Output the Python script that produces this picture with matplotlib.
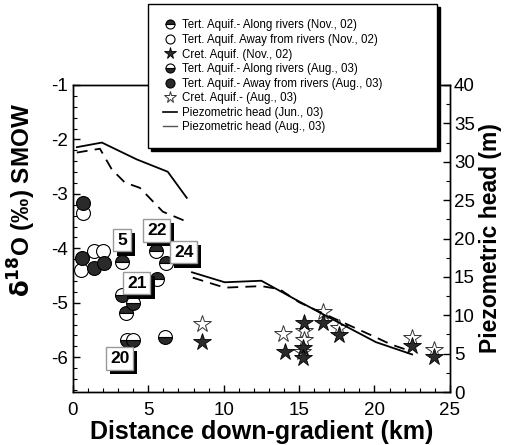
import matplotlib.pyplot as plt
import matplotlib.patheffects as pe
from matplotlib.lines import Line2D
from matplotlib.ticker import MultipleLocator
import numpy as np

plt.rcParams['font.family'] = ['Liberation Sans', 'DejaVu Sans']
plt.rcParams['axes.unicode_minus'] = False

# Tertiary aquifer, along rivers, Nov. 02 (top half filled)
tal_nov_x = [3.25, 5.5, 6.15, 5.55, 3.5]
tal_nov_y = [-4.25, -4.05, -4.27, -4.57, -5.19]

# Tertiary aquifer, away from rivers, Nov. 02 (open circles)
taw_nov_x = [0.66, 0.53, 1.39, 1.99]
taw_nov_y = [-3.35, -4.40, -4.05, -4.05]

# Cretaceous aquifer, Nov. 02 (filled stars)
cret_nov_x = [8.54, 14.04, 15.36, 15.23, 15.23, 16.56, 17.68, 22.52, 23.97]
cret_nov_y = [-5.72, -5.90, -5.37, -5.83, -6.02, -5.38, -5.60, -5.80, -6.00]

# Tertiary aquifer, along rivers, Aug. 03 (bottom half filled)
tal_aug_x = [3.25, 3.97, 3.6, 3.97, 6.1]
tal_aug_y = [-4.86, -5.0, -5.69, -5.69, -5.63]

# Tertiary aquifer, away from rivers, Aug. 03 (filled circles)
taw_aug_x = [0.66, 0.6, 1.39, 2.05]
taw_aug_y = [-3.17, -4.18, -4.36, -4.27]

# Cretaceous aquifer, Aug. 03 (open stars)
cret_aug_x = [8.54, 13.91, 15.36, 15.36, 15.17, 16.56, 17.68, 22.52, 23.97]
cret_aug_y = [-5.39, -5.58, -5.51, -5.69, -5.91, -5.17, -5.47, -5.65, -5.87]

# Piezometric head (m), two line segments separated by a gap
head_jun_x = [0.26, 1.92, 4.24, 6.29, 7.55, np.nan, 7.9, 10.07, 12.5, 15.0, 17.2, 20.1, 22.5]
head_jun_y = [31.9, 32.5, 30.3, 28.7, 25.3, np.nan, 15.6, 14.3, 14.5, 11.8, 9.5, 6.5, 4.9]
head_aug_x = [0.26, 1.79, 2.58, 3.44, 4.44, 5.96, 7.55, np.nan, 7.95, 10.07, 12.5, 13.7, 15.0, 17.2, 19.9, 21.1, 22.0]
head_aug_y = [31.2, 31.7, 29.0, 27.3, 26.6, 23.5, 22.2, np.nan, 14.9, 13.6, 13.8, 13.4, 11.7, 9.7, 7.3, 6.2, 5.6]

# Sample number tags
tag_text = ['5', '22', '24', '21', '20']
tag_x = [3.25, 5.56, 7.35, 4.24, 3.11]
tag_y = [-3.85, -3.67, -4.07, -4.64, -6.02]

fig = plt.figure(figsize=(5.1, 4.45), dpi=100)
ax = fig.add_axes([0.143, 0.119, 0.739, 0.690])
ax2 = ax.twinx()

dark = '#2a2a2a'
ms_c = 10
ms_s = 13

h1, = ax.plot(tal_nov_x, tal_nov_y, 'o', ms=ms_c, fillstyle='top', mfc=dark, mfcalt='white',
              mec='black', mew=0.8, ls='none', label='Tert. Aquif.- Along rivers (Nov., 02)', zorder=4)
h2, = ax.plot(taw_nov_x, taw_nov_y, 'o', ms=ms_c, mfc='white', mec='black', mew=0.8, ls='none',
              label='Tert. Aquif. Away from rivers (Nov., 02)', zorder=3)
h3, = ax.plot(cret_nov_x, cret_nov_y, '*', ms=ms_s, mfc=dark, mec='black', mew=0.6, ls='none',
              label='Cret. Aquif. (Nov., 02)', zorder=4)
h4, = ax.plot(tal_aug_x, tal_aug_y, 'o', ms=ms_c, fillstyle='bottom', mfc=dark, mfcalt='white',
              mec='black', mew=0.8, ls='none', label='Tert. Aquif.- Along rivers (Aug., 03)', zorder=4)
h5, = ax.plot(taw_aug_x, taw_aug_y, 'o', ms=ms_c, mfc=dark, mec='black', mew=0.8, ls='none',
              label='Tert. Aquif.- Away from rivers (Aug., 03)', zorder=4)
h6, = ax.plot(cret_aug_x, cret_aug_y, '*', ms=ms_s, mfc='white', mec='#333333', mew=0.7, ls='none',
              label='Cret. Aquif.- (Aug., 03)', zorder=3)

ax2.plot(head_jun_x, head_jun_y, color='black', lw=1.3)
ax2.plot(head_aug_x, head_aug_y, color='black', lw=1.3, ls=(0, (6, 4)))

# Tags with a hard black drop shadow
for s, x, y in zip(tag_text, tag_x, tag_y):
    t = ax.text(x, y, s, ha='center', va='center', fontsize=12.5, fontweight='bold', zorder=6,
                bbox=dict(boxstyle='square,pad=0.22', facecolor='white', edgecolor='#999999', lw=1))
    t.get_bbox_patch().set_path_effects([
        pe.SimplePatchShadow(offset=(3, -3), shadow_rgbFace='black', alpha=1.0), pe.Normal()])

ax.set_xlim(0, 25)
ax.set_ylim(-6.64, -1)
ax2.set_ylim(0, 40)

ax.xaxis.set_major_locator(MultipleLocator(5))
ax.xaxis.set_minor_locator(MultipleLocator(1))
ax.yaxis.set_major_locator(MultipleLocator(1))
ax.yaxis.set_minor_locator(MultipleLocator(0.2))
ax2.yaxis.set_major_locator(MultipleLocator(5))
ax2.yaxis.set_minor_locator(MultipleLocator(2.5))

ax.tick_params(which='both', direction='in', labelsize=13.5, top=False)
ax.tick_params(axis='x', pad=7)
ax.tick_params(which='major', length=5, width=1)
ax.tick_params(which='minor', length=3, width=0.8)
ax2.tick_params(which='both', direction='in', labelsize=13.5, pad=3)
ax2.tick_params(which='major', length=5, width=1)
ax2.tick_params(which='minor', length=3, width=0.8)
for a in (ax, ax2):
    for sp in a.spines.values():
        sp.set_linewidth(1.0)

ax.set_xlabel('Distance down-gradient (km)', fontsize=18, fontweight='bold', labelpad=1)
ax.set_ylabel(r'$\mathbf{\delta^{18}}$O (‰) SMOW', fontsize=17.5, fontweight='bold')
ax.yaxis.set_label_coords(-0.092, 0.625)
ax2.set_ylabel('Piezometric head (m)', fontsize=16.5, fontweight='bold', labelpad=3)

handles = [h1, h2, h3, h4, h5, h6,
           Line2D([], [], color='black', lw=1.2),
           Line2D([], [], color='#555555', lw=1.0)]
labels = [h.get_label() for h in (h1, h2, h3, h4, h5, h6)] + \
         ['Piezometric head (Jun., 03)', 'Piezometric head (Aug., 03)']
leg = fig.legend(handles, labels, loc='upper left', bbox_to_anchor=(0.29, 0.99, 0.567, 0.0),
                 mode='expand', fontsize=8.3, frameon=True, fancybox=False, edgecolor='black',
                 shadow={'color': 'black', 'alpha': 1.0}, borderpad=1.3, labelspacing=0.22,
                 handlelength=1.2, handletextpad=0.5, markerscale=0.65, borderaxespad=0)
leg.get_frame().set_linewidth(1.0)
leg.set_zorder(10)

fig.savefig('out.png', dpi=100)
